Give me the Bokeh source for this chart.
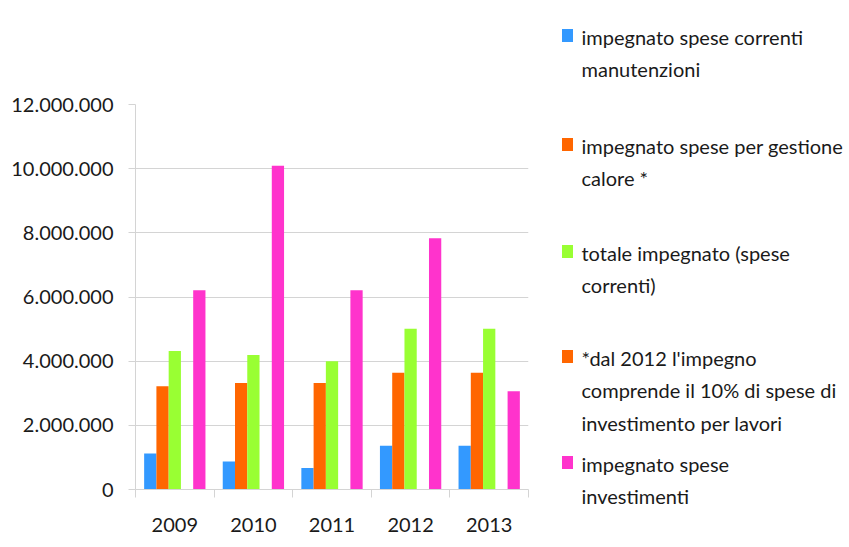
from bokeh.plotting import figure
from bokeh.models import FixedTicker, Range1d, ColumnDataSource
from bokeh.layouts import row
from bokeh.embed import file_html
from bokeh.resources import INLINE
from bokeh.core.properties import value

# ---- data ----
years = ["2009", "2010", "2011", "2012", "2013"]
series_labels = [
    "impegnato spese correnti\nmanutenzioni",
    "impegnato spese per gestione\ncalore *",
    "totale impegnato (spese\ncorrenti)",
    "*dal 2012 l'impegno\ncomprende il 10% di spese di\ninvestimento per lavori",
    "impegnato spese\ninvestimenti",
]
manutenzioni = [1120000, 870000, 670000, 1360000, 1360000]
gestione_calore = [3220000, 3320000, 3320000, 3640000, 3640000]
totale_correnti = [4320000, 4190000, 4000000, 5010000, 5010000]
nota_2012 = [0, 0, 0, 0, 0]
investimenti = [6210000, 10090000, 6210000, 7830000, 3060000]
series_colors = ["#3399FF", "#FF6600", "#99FF33", "#FF6600", "#FF33CC"]
y_ticks = [0, 2000000, 4000000, 6000000, 8000000, 10000000, 12000000]
y_tick_labels = ["0", "2.000.000", "4.000.000", "6.000.000", "8.000.000",
                 "10.000.000", "12.000.000"]

series_values = [manutenzioni, gestione_calore, totale_correnti, nota_2012, investimenti]

FONT = "Lato"
GRID = "#d4d4d4"
H = 539

# ---- main chart ----
p = figure(width=553, height=H, x_range=Range1d(0, len(years)),
           y_range=Range1d(0, 12000000), toolbar_location=None,
           output_backend="svg", min_border_left=135, min_border_right=25,
           min_border_top=104, min_border_bottom=H - 489)
p.frame_align = False
p.outline_line_color = None
p.background_fill_color = "white"
p.border_fill_color = "white"

bar_w = 0.156
n = len(series_values)
for k, (vals, col) in enumerate(zip(series_values, series_colors)):
    xs = [i + 0.5 + (k - (n - 1) / 2) * bar_w for i in range(len(years))]
    src = ColumnDataSource(dict(x=xs, top=vals))
    p.vbar(x="x", top="top", bottom=0, width=bar_w, source=src,
           fill_color=col, line_color=None)

p.xgrid.visible = False
p.ygrid.grid_line_color = GRID
p.ygrid.grid_line_width = 1
p.ygrid.ticker = FixedTicker(ticks=y_ticks)

p.yaxis.ticker = FixedTicker(ticks=y_ticks)
p.yaxis.major_label_overrides = dict(zip(y_ticks, y_tick_labels))
p.yaxis.major_tick_out = 7
p.yaxis.major_tick_in = 0
p.yaxis.minor_tick_line_color = None
p.yaxis.axis_line_color = GRID
p.yaxis.major_tick_line_color = GRID
p.yaxis.major_label_standoff = 15
p.yaxis.major_label_text_font = FONT
p.yaxis.major_label_text_font_size = "20px"
p.yaxis.major_label_text_color = "#1a1a1a"

x_centers = [i + 0.5 for i in range(len(years))]
p.xaxis.ticker = FixedTicker(ticks=x_centers,
                             minor_ticks=list(range(len(years) + 1)))
p.xaxis.major_label_overrides = dict(zip(x_centers, years))
p.xaxis.major_tick_out = 0
p.xaxis.major_tick_in = 0
p.xaxis.major_tick_line_color = None
p.xaxis.minor_tick_out = 8
p.xaxis.minor_tick_in = 0
p.xaxis.minor_tick_line_color = GRID
p.xaxis.axis_line_color = GRID
p.xaxis.major_label_standoff = 20
p.xaxis.major_label_text_font = FONT
p.xaxis.major_label_text_font_size = "20px"
p.xaxis.major_label_text_color = "#1a1a1a"

# ---- legend panel ----
LX0 = 553
LW = 849 - LX0 - 1
lf = figure(width=LW, height=H, x_range=Range1d(0, LW), y_range=Range1d(H, 0),
            toolbar_location=None, output_backend="svg", min_border=0)
lf.frame_align = False
lf.outline_line_color = None
lf.axis.visible = False
lf.grid.visible = False

entry_tops = [36, 145, 252, 357, 463]
line_h = 32.5
sq_x, txt_x = 567 - LX0, 581 - LX0
tx, ty, tt = [], [], []
for lab, top in zip(series_labels, entry_tops):
    for j, line in enumerate(lab.split("\n")):
        tx.append(txt_x)
        ty.append(top + j * line_h)
        tt.append(line)
lf.rect(x=[sq_x] * len(entry_tops), y=[t - 1 for t in entry_tops], width=11,
        height=13, fill_color=series_colors, line_color=None)
lf.text(x=tx, y=ty, text=tt, text_baseline="middle", text_align="left",
        text_font=value(FONT), text_font_size="20px", text_color="#1a1a1a")

layout = row(p, lf)
open("out.html", "w").write(file_html(layout, INLINE))
